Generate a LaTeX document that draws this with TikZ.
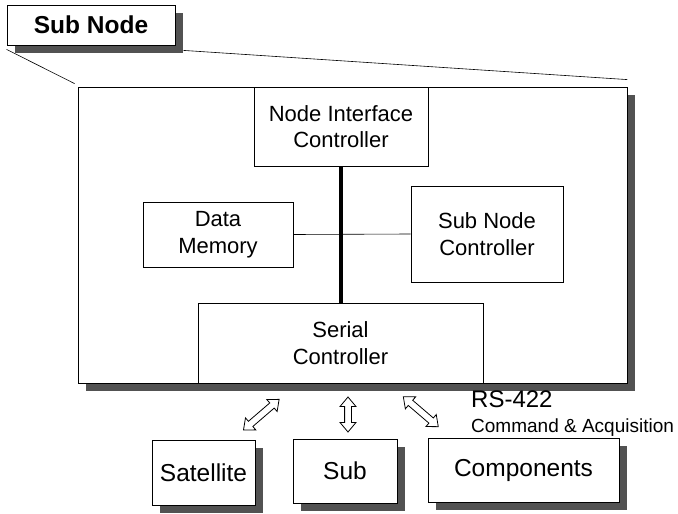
\documentclass[tikz,border=0pt]{standalone}
\usepackage{fontspec}
\setmainfont{Liberation Sans}
\usetikzlibrary{shapes.arrows}

\pgfdeclarelayer{shadowlayer}
\pgfsetlayers{shadowlayer,main}

\tikzset{
  shade box/.style={draw=black, line width=0.8pt, fill=white, inner sep=0pt},
  plainbox/.style={draw=black, line width=0.8pt, fill=white, inner sep=0pt, align=center,
    font=\fontsize{22}{26.5}\selectfont},
  unitbox/.style={shade box, align=center, font=\fontsize{24.5}{28}\selectfont},
  dblarrow/.style={double arrow, draw=black, line width=0.8pt, fill=white,
    inner sep=3pt, double arrow head extend=4.5pt, double arrow tip angle=80},
  link/.style={draw=black, line width=0.6pt},
  bus/.style={draw=black, line width=4pt},
  boxshadow/.style={fill=black!68, draw=none}
}
% drop shadow behind a named node, offset 8pt right and down
\newcommand{\castshadow}[1]{%
  \begin{pgfonlayer}{shadowlayer}
    \path[boxshadow] ([shift={(8pt,-8pt)}]#1.south west) rectangle ([shift={(8pt,-8pt)}]#1.north east);
  \end{pgfonlayer}}

\begin{document}
\begin{tikzpicture}[x=1pt, y=-1pt]
\useasboundingbox (0,0) rectangle (678,514);

% title tab
\node[shade box, minimum width=168pt, minimum height=40pt,
      font=\bfseries\fontsize{24.5}{28}\selectfont] (hdr) at (91,25) {Sub Node};
\castshadow{hdr}

% enclosure of the sub node
\node[shade box, minimum width=549pt, minimum height=296pt] (main) at (352.5,235) {};
\castshadow{main}

% callout lines from the tab to the enclosure
\coordinate (hdrcorner) at ([xshift=8pt,yshift=-5pt]hdr.south east);
\draw[link] ([yshift=-4pt]hdr.south west) -- ([xshift=-3pt,yshift=3pt]main.north west);
\draw[link] (hdrcorner) -- ([yshift=7pt]main.north east);

% internal units
\node[plainbox, minimum width=174pt, minimum height=79pt] (nic) at (341,126.5)
  {Node Interface\\Controller};
\node[plainbox, minimum width=150pt, minimum height=65pt] (dm) at (218,234.5)
  {Data\\Memory};
\node[plainbox, minimum width=152pt, minimum height=96pt] (snc) at (487,234)
  {Sub Node\\Controller};
\node[plainbox, minimum width=285pt, minimum height=80pt] (ser) at (340.5,343)
  {Serial\\Controller};

% internal bus
\draw[link] (dm.east) -- (snc.west);
\draw[bus] (nic.south) -- (nic.south |- ser.north);

% external units
\node[unitbox, minimum width=103pt, minimum height=65pt] (sat) at (203.5,472.5) {Satellite};
\castshadow{sat}
\node[unitbox, minimum width=104pt, minimum height=64pt] (sub) at (345,471) {Sub};
\castshadow{sub}
\node[unitbox, minimum width=191pt, minimum height=64pt] (comp) at (523.5,470) {Components};
\castshadow{comp}

% RS-422 links
\node[dblarrow, minimum height=47pt, rotate=40.7] (lsat) at (261.3,414.7) {};
\node[dblarrow, minimum height=35pt, rotate=90] (lsub) at (348,414.5) {};
\node[dblarrow, minimum height=46pt, rotate=-40.6] (lcomp) at (420.8,411.7) {};

% link label
\node[anchor=base west, inner sep=0pt, font=\fontsize{24}{28}\selectfont] (rs) at (471,407) {RS-422};
\node[anchor=base west, inner sep=0pt, font=\fontsize{19}{22}\selectfont] (ca) at (471,432) {Command \& Acquisition};
\end{tikzpicture}
\end{document}
